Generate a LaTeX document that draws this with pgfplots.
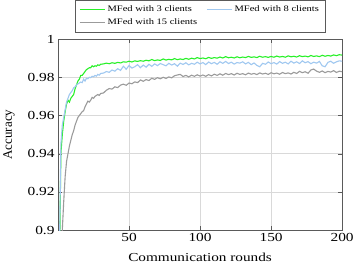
\documentclass[border=0pt]{standalone}
\usepackage{fontspec}
\setmainfont{Liberation Serif}[FakeStretch=1.25]
\newfontfamily\ylfont{Liberation Serif}
\usepackage{pgfplots}
\pgfplotsset{compat=1.18}
\definecolor{cgreen}{RGB}{40,240,40}
\definecolor{cblue}{RGB}{160,200,240}
\definecolor{cgray}{RGB}{155,155,155}
\definecolor{cframe}{RGB}{90,90,90}
\begin{document}
\begin{tikzpicture}
\begin{axis}[
  width=284pt, height=191pt, scale only axis,
  xmin=0, xmax=200, ymin=0.9, ymax=1,
  xtick={50,100,150,200},
  ytick={0.9,0.92,0.94,0.96,0.98,1},
  yticklabels={0.9,0.92,0.94,0.96,0.98,1},
  grid=major,
  grid style={black!15, line width=0.7pt},
  axis line style={cframe, line width=0.7pt},
  tick style={cframe},
  /pgf/number format/assume math mode=true,
  tick label style={font=\fontsize{12.3}{14}\selectfont},
  label style={font=\fontsize{12.2}{14}\selectfont},
  xlabel={Communication rounds},
  ylabel={\ylfont\fontsize{13}{15}\selectfont Accuracy},
  xlabel style={yshift=-4pt},
  ylabel style={yshift=6pt},
  legend columns=2,
  legend cell align=left,
  legend style={at={(0.5,1)}, anchor=south, yshift=7pt,
    font=\fontsize{8.4}{10}\selectfont, draw=cframe,
    inner xsep=4pt, inner ysep=3.5pt, row sep=2pt,
    /tikz/every even column/.append style={column sep=7pt}},
  every axis plot/.append style={line width=1.1pt},
]
\addplot[cgreen, legend image code/.code={\draw[draw=cgreen, line width=1.4pt] (0pt,0pt) -- (25pt,0pt);}] coordinates {
(1,0.880)(2,0.940)(3,0.950)(4,0.957)(5,0.962)(6,0.966)(7,0.968)(8,0.967)(9,0.969)(10,0.970)
(11,0.971)(12,0.974)(13,0.976)(14,0.978)(15,0.979)(16,0.981)(17,0.981)(18,0.982)(19,0.983)(20,0.984)
(21,0.9845)(22,0.985)(23,0.985)(24,0.986)(25,0.9855)(26,0.986)(27,0.9858)(28,0.9865)(29,0.9862)(30,0.9868)
(32,0.9870)(34,0.9874)(36,0.9871)(38,0.9876)(40,0.9873)(42,0.9878)(44,0.9875)(46,0.9881)(48,0.9879)(50,0.9884)
(52,0.9880)(54,0.9886)(56,0.9883)(58,0.9887)(60,0.9884)(62,0.9889)(64,0.9886)(66,0.9893)(68,0.9887)(70,0.9891)
(72,0.9888)(74,0.9896)(76,0.9890)(78,0.9894)(80,0.9891)(82,0.9898)(84,0.9892)(86,0.9896)(88,0.9893)(90,0.9899)
(92,0.9894)(94,0.9900)(96,0.9896)(98,0.9903)(100,0.9898)(102,0.9901)(104,0.9897)(106,0.9904)(108,0.9899)(110,0.9903)
(112,0.9900)(114,0.9906)(116,0.9901)(118,0.9908)(120,0.9902)(122,0.9905)(124,0.9901)(126,0.9907)(128,0.9902)(130,0.9906)
(132,0.9903)(134,0.9909)(136,0.9904)(138,0.9907)(140,0.9903)(142,0.9910)(144,0.9905)(146,0.9908)(148,0.9904)(150,0.9909)
(152,0.9905)(154,0.9911)(156,0.9906)(158,0.9909)(160,0.9905)(162,0.9912)(164,0.9907)(166,0.9910)(168,0.9906)(170,0.9913)
(172,0.9908)(174,0.9911)(176,0.9907)(178,0.9914)(180,0.9909)(182,0.9912)(184,0.9908)(186,0.9915)(188,0.9910)(190,0.9914)
(192,0.9911)(194,0.9917)(196,0.9913)(198,0.9918)(200,0.9916)
};
\addlegendentry{MFed with 3 clients}
\addplot[cblue, legend image code/.code={\draw[draw=cblue, line width=1.4pt] (0pt,0pt) -- (25pt,0pt);}] coordinates {
(1,0.890)(2,0.945)(3,0.955)(4,0.959)(5,0.963)(6,0.967)(7,0.969)(8,0.971)(9,0.972)(10,0.973)
(11,0.9745)(12,0.975)(13,0.976)(14,0.9765)(15,0.977)(16,0.9775)(17,0.9772)(18,0.979)(19,0.978)(20,0.9795)
(21,0.9792)(22,0.980)(23,0.9798)(24,0.9805)(25,0.9803)(26,0.981)(27,0.9806)(28,0.9815)(29,0.9811)(30,0.982)
(32,0.9822)(34,0.9830)(36,0.9826)(38,0.9838)(40,0.9832)(42,0.9845)(44,0.9836)(46,0.9858)(48,0.9842)(50,0.9862)
(52,0.9848)(54,0.9855)(56,0.9866)(58,0.9850)(60,0.9864)(62,0.9853)(64,0.9868)(66,0.9857)(68,0.9870)(70,0.9861)
(72,0.9872)(74,0.9866)(76,0.9860)(78,0.9873)(80,0.9864)(82,0.9871)(84,0.9858)(86,0.9874)(88,0.9867)(90,0.9876)
(92,0.9865)(94,0.9873)(96,0.9868)(98,0.9879)(100,0.9870)(102,0.9877)(104,0.9866)(106,0.9880)(108,0.9871)(110,0.9878)
(112,0.9868)(114,0.9881)(116,0.9873)(118,0.9883)(120,0.9872)(122,0.9879)(124,0.9869)(126,0.9877)(128,0.9874)(130,0.9881)
(132,0.9870)(134,0.9878)(136,0.9866)(138,0.9875)(140,0.9862)(142,0.9855)(144,0.9873)(146,0.9868)(148,0.9880)(150,0.9871)
(152,0.9877)(154,0.9869)(156,0.9882)(158,0.9873)(160,0.9879)(162,0.9870)(164,0.9884)(166,0.9874)(168,0.9881)(170,0.9872)
(172,0.9886)(174,0.9876)(176,0.9882)(178,0.9871)(180,0.9879)(182,0.9874)(184,0.9883)(186,0.9860)(188,0.9855)(190,0.9878)
(192,0.9884)(194,0.9873)(196,0.9881)(198,0.9886)(200,0.9884)
};
\addlegendentry{MFed with 8 clients}
\addplot[cgray, legend image code/.code={\draw[draw=cgray, line width=1.4pt] (0pt,0pt) -- (25pt,0pt);}] coordinates {
(1,0.860)(2,0.880)(3,0.900)(4,0.915)(5,0.928)(6,0.936)(7,0.940)(8,0.944)(9,0.947)(10,0.950)
(11,0.952)(12,0.955)(13,0.957)(14,0.959)(15,0.960)(16,0.961)(17,0.962)(18,0.9625)(19,0.9645)(20,0.966)
(21,0.9675)(22,0.967)(23,0.968)(24,0.9695)(25,0.969)(26,0.970)(27,0.9705)(28,0.971)(29,0.9705)(30,0.9715)
(32,0.9718)(34,0.9732)(36,0.9741)(38,0.9738)(40,0.9750)(42,0.9746)(44,0.9759)(46,0.9764)(48,0.9758)(50,0.9770)
(52,0.9766)(54,0.9776)(56,0.9772)(58,0.9786)(60,0.9779)(62,0.9788)(64,0.9783)(66,0.9795)(68,0.9789)(70,0.9798)
(72,0.9792)(74,0.9800)(76,0.9794)(78,0.9802)(80,0.9797)(82,0.9808)(84,0.9812)(86,0.9815)(88,0.9804)(90,0.9810)
(92,0.9802)(94,0.9811)(96,0.9805)(98,0.9813)(100,0.9806)(102,0.9812)(104,0.9805)(106,0.9814)(108,0.9807)(110,0.9816)
(112,0.9810)(114,0.9818)(116,0.9811)(118,0.9820)(120,0.9814)(122,0.9819)(124,0.9812)(126,0.9821)(128,0.9815)(130,0.9819)
(132,0.9813)(134,0.9822)(136,0.9816)(138,0.9820)(140,0.9814)(142,0.9823)(144,0.9817)(146,0.9821)(148,0.9815)(150,0.9824)
(152,0.9818)(154,0.9822)(156,0.9816)(158,0.9825)(160,0.9819)(162,0.9823)(164,0.9817)(166,0.9826)(168,0.9820)(170,0.9831)
(172,0.9824)(174,0.9829)(176,0.9821)(178,0.9838)(180,0.9843)(182,0.9832)(184,0.9826)(186,0.9833)(188,0.9824)(190,0.9831)
(192,0.9827)(194,0.9835)(196,0.9825)(198,0.9832)(200,0.9829)
};
\addlegendentry{MFed with 15 clients}
\end{axis}
\end{tikzpicture}
\end{document}
